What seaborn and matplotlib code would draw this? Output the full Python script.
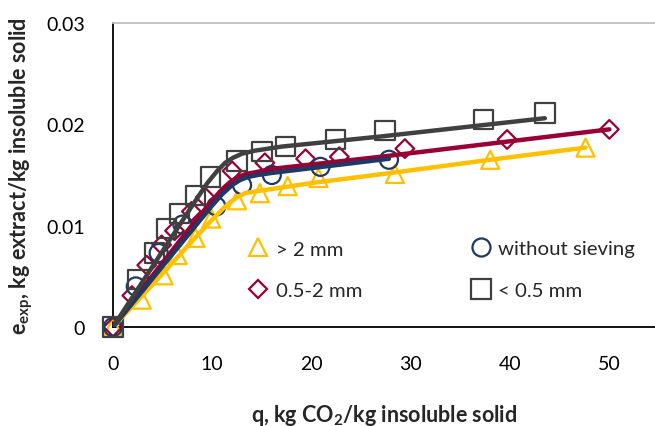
import matplotlib
matplotlib.use("Agg")
import matplotlib.pyplot as plt
from matplotlib.lines import Line2D
import seaborn as sns
import pandas as pd

q_big = [0, 2.9, 5.1, 6.5, 8.3, 9.9, 12.5, 14.8, 17.6, 20.7, 28.4, 38.0, 47.6]
e_big = [0, 0.0027, 0.0051, 0.0071, 0.0088, 0.0107, 0.0125, 0.0132, 0.0139, 0.0147, 0.0151, 0.0165, 0.0177]

q_mid = [0, 1.9, 3.4, 4.9, 6.2, 7.9, 9.3, 12.0, 15.3, 19.4, 22.8, 29.4, 39.7, 50.0]
e_mid = [0, 0.0031, 0.0061, 0.0081, 0.0095, 0.0114, 0.0128, 0.0154, 0.0162, 0.0166, 0.0168, 0.0176, 0.0185, 0.0195]

q_all = [0, 2.3, 4.6, 7.0, 10.4, 13.0, 16.0, 20.9, 27.8]
e_all = [0, 0.0040, 0.0073, 0.0101, 0.0119, 0.0140, 0.0150, 0.0158, 0.0165]

q_small = [0, 2.5, 4.2, 5.4, 6.7, 8.3, 9.8, 12.5, 15.0, 17.4, 22.4, 27.4, 37.3, 43.5]
e_small = [0, 0.0047, 0.0073, 0.0097, 0.0112, 0.0130, 0.0148, 0.0164, 0.0173, 0.0178, 0.0185, 0.0194, 0.0205, 0.0211]

# fitted curves
qf_big = [0, 4, 8, 10, 11, 11.8, 12.5, 13.3, 14.5, 20, 28, 38, 47.6]
ef_big = [0, 0.0042, 0.0085, 0.0106, 0.0116, 0.0123, 0.0128, 0.0132, 0.0134, 0.0142, 0.0152, 0.0165, 0.0177]

qf_mid = [0, 4, 8, 10, 11, 11.8, 12.6, 13.4, 14.5, 16, 27, 50]
ef_mid = [0, 0.0051, 0.0101, 0.0125, 0.0136, 0.0143, 0.0148, 0.0151, 0.0153, 0.0156, 0.0168, 0.0195]

qf_all = [0, 4, 8, 10, 11, 12, 12.8, 13.6, 14.6, 16, 27.8]
ef_all = [0, 0.0048, 0.0096, 0.0120, 0.0131, 0.0140, 0.0145, 0.0148, 0.0150, 0.0152, 0.0166]

qf_small = [0, 4, 8, 9.5, 10.5, 11.3, 12.1, 13, 14.3, 17, 27, 43.5]
ef_small = [0, 0.0060, 0.0120, 0.0142, 0.0154, 0.0162, 0.0167, 0.0171, 0.0174, 0.0178, 0.0188, 0.0206]

labels = ["> 2 mm", "0.5-2 mm", "without sieving", "< 0.5 mm"]
colors = ["#FFC000", "#990033", "#1F3864", "#404040"]
markers = ["^", "D", "o", "s"]
msizes = [13, 9.5, 13, 14]

sns.set_theme(style="white")
plt.rcParams["font.family"] = ["Lato", "DejaVu Sans"]
plt.rcParams["mathtext.fontset"] = "custom"
plt.rcParams["mathtext.rm"] = "Lato:bold"
plt.rcParams["mathtext.bf"] = "Lato:bold"
plt.rcParams["mathtext.default"] = "rm"

fig = plt.figure(figsize=(6.55, 4.27), dpi=100)
ax = fig.add_axes([0.1725, 0.2319, 0.8275, 0.712])

pts = [(q_big, e_big), (q_mid, e_mid), (q_all, e_all), (q_small, e_small)]
fits = [(qf_big, ef_big), (qf_mid, ef_mid), (qf_all, ef_all), (qf_small, ef_small)]

for (qx, ey), c, m, ms in zip(pts, colors, markers, msizes):
    sns.scatterplot(x=qx, y=ey, ax=ax, marker=m, s=ms ** 2, facecolor="none",
                    edgecolor=c, linewidth=1.6, clip_on=False, zorder=3)

for (qx, ey), c in zip(fits, colors):
    d = pd.DataFrame({"q": qx, "e": ey})
    sns.lineplot(data=d, x="q", y="e", ax=ax, color=c, linewidth=3.2,
                 sort=False, zorder=4, solid_capstyle="round", solid_joinstyle="round")

ax.set_xlim(0, 54.6)
ax.set_ylim(0, 0.03)
ax.set_xticks([0, 10, 20, 30, 40, 50])
ax.set_yticks([0, 0.01, 0.02, 0.03])
ax.set_yticklabels(["0", "0.01", "0.02", "0.03"])
ax.tick_params(axis="both", direction="out", length=6, width=1, color="#A6A6A6",
               labelsize=14, labelcolor="black")
ax.tick_params(axis="y", pad=14)
ax.tick_params(axis="x", pad=14)

for s in ["left", "bottom"]:
    ax.spines[s].set_color("black")
    ax.spines[s].set_linewidth(1.3)
ax.spines["top"].set_color("#BFBFBF")
ax.spines["top"].set_linewidth(1.3)
ax.spines["right"].set_visible(False)

ax.set_xlabel(r"q, kg CO$_{2}$/kg insoluble solid", fontsize=15.5, fontweight="bold", labelpad=22)
ax.set_ylabel(r"e$_{exp}$, kg extract/kg insoluble solid", fontsize=15.5, fontweight="bold", labelpad=8)

handles = [Line2D([], [], linestyle="none", marker=m, markersize=ms, markerfacecolor="none",
                  markeredgecolor=c, markeredgewidth=1.6)
           for c, m, ms in zip(colors, markers, msizes)]
ax.legend(handles=handles, labels=labels, ncol=2, frameon=False, fontsize=14.7,
          loc="upper left", bbox_to_anchor=(238 / 655, 1 - 231 / 427),
          bbox_transform=fig.transFigure, borderpad=0, handlelength=1.0,
          handletextpad=0.35, columnspacing=5.3, labelspacing=1.2)

fig.savefig("out.png", dpi=100)
